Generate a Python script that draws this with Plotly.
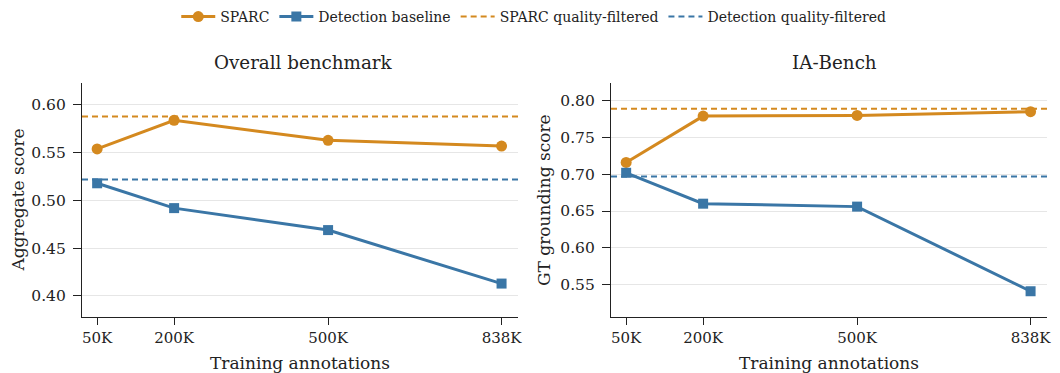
import plotly.graph_objects as go

x_vals = [50, 200, 500, 838]
x_labels = ["50K", "200K", "500K", "838K"]

overall_sparc = [0.554, 0.584, 0.563, 0.557]
overall_det = [0.518, 0.492, 0.469, 0.413]
overall_sparc_qf = 0.588
overall_det_qf = 0.522

ia_sparc = [0.716, 0.779, 0.780, 0.785]
ia_det = [0.702, 0.660, 0.656, 0.541]
ia_sparc_qf = 0.789
ia_det_qf = 0.697

ORANGE = "#D4891F"
BLUE = "#3A76A6"
FONT = "DejaVu Serif"

fig = go.Figure()

xr = [20.5, 870]

def add_panel(xa, ya, sparc, det, sq, dq, show):
    fig.add_trace(go.Scatter(x=[xr[0], xr[1]], y=[sq, sq], mode="lines", xaxis=xa, yaxis=ya,
                             line=dict(color=ORANGE, width=2, dash="6px,4px"),
                             name="SPARC quality-filtered", showlegend=show, legendrank=3))
    fig.add_trace(go.Scatter(x=[xr[0], xr[1]], y=[dq, dq], mode="lines", xaxis=xa, yaxis=ya,
                             line=dict(color=BLUE, width=2, dash="6px,4px"),
                             name="Detection quality-filtered", showlegend=show, legendrank=4))
    fig.add_trace(go.Scatter(x=x_vals, y=sparc, mode="lines+markers", xaxis=xa, yaxis=ya,
                             line=dict(color=ORANGE, width=3),
                             marker=dict(symbol="circle", size=11, color=ORANGE),
                             name="SPARC", showlegend=show, legendrank=1))
    fig.add_trace(go.Scatter(x=x_vals, y=det, mode="lines+markers", xaxis=xa, yaxis=ya,
                             line=dict(color=BLUE, width=3),
                             marker=dict(symbol="square", size=10, color=BLUE),
                             name="Detection baseline", showlegend=show, legendrank=2))

add_panel("x", "y", overall_sparc, overall_det, overall_sparc_qf, overall_det_qf, True)
add_panel("x2", "y2", ia_sparc, ia_det, ia_sparc_qf, ia_det_qf, False)

xaxis_common = dict(
    range=xr, tickvals=x_vals, ticktext=x_labels, showgrid=False, zeroline=False,
    showline=True, linecolor="#222", linewidth=1.2, ticks="outside", ticklen=7,
    tickcolor="#222", tickfont=dict(family=FONT, size=15, color="#222"), automargin=False,
    title=dict(text="Training annotations", font=dict(family=FONT, size=17, color="#222"), standoff=11),
)
yaxis_common = dict(
    showgrid=True, gridcolor="#E6E6E6", gridwidth=1, zeroline=False,
    showline=True, linecolor="#222", linewidth=1.2, ticks="outside", ticklen=8,
    tickcolor="#222", tickfont=dict(family=FONT, size=15.5, color="#222"), automargin=False,
    ticklabelstandoff=4,
)

fig.update_layout(
    width=1060, height=373,
    margin=dict(l=74, r=21, t=75, b=64, autoexpand=False),
    paper_bgcolor="white", plot_bgcolor="white",
    font=dict(family=FONT, color="#222"),
    xaxis=dict(domain=[0, 0.4518], **xaxis_common),
    xaxis2=dict(domain=[0.5482, 1.0], anchor="y2", **xaxis_common),
    yaxis=dict(range=[0.378, 0.623], tickvals=[0.40, 0.45, 0.50, 0.55, 0.60],
               ticktext=["0.40", "0.45", "0.50", "0.55", "0.60"], **yaxis_common),
    yaxis2=dict(anchor="x2", range=[0.506, 0.824], tickvals=[0.55, 0.60, 0.65, 0.70, 0.75, 0.80],
                ticktext=["0.55", "0.60", "0.65", "0.70", "0.75", "0.80"], **yaxis_common),
    legend=dict(orientation="h", xref="container", x=0.496, xanchor="center",
                yref="paper", y=1.282, yanchor="middle",
                font=dict(family=FONT, size=14, color="#222"), bgcolor="rgba(0,0,0,0)",
                itemwidth=34, traceorder="normal"),
    showlegend=True,
)

fig.add_annotation(text="Overall benchmark", x=0.230, y=1.0855, xref="paper", yref="paper",
                   showarrow=False, xanchor="center", yanchor="middle",
                   font=dict(family=FONT, size=18.3, color="#222"))
fig.add_annotation(text="IA-Bench", x=0.7798, y=1.0855, xref="paper", yref="paper",
                   showarrow=False, xanchor="center", yanchor="middle",
                   font=dict(family=FONT, size=18.3, color="#222"))
fig.add_annotation(text="Aggregate score", x=-0.0668, y=0.5, xref="paper", yref="paper",
                   showarrow=False, xanchor="center", yanchor="middle", textangle=-90,
                   font=dict(family=FONT, size=17, color="#222"))
fig.add_annotation(text="GT grounding score", x=0.4788, y=0.5, xref="paper", yref="paper",
                   showarrow=False, xanchor="center", yanchor="middle", textangle=-90,
                   font=dict(family=FONT, size=17, color="#222"))

fig.write_html("out.html")
